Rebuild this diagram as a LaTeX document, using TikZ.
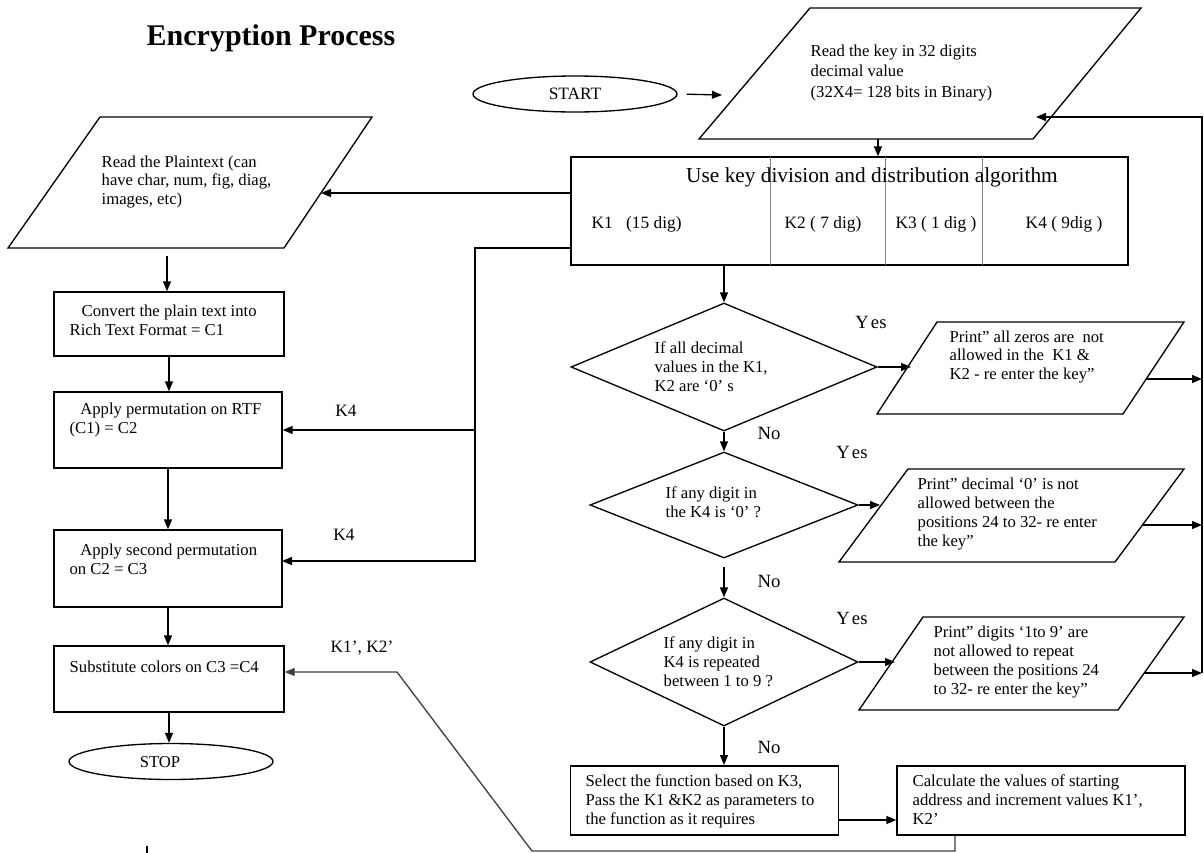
\documentclass[tikz,border=0pt]{standalone}
\usepackage{fontspec}
\setmainfont{Liberation Serif}
\usetikzlibrary{arrows.meta, shapes.geometric}

\begin{document}
\begin{tikzpicture}[x=0.75pt, y=-0.75pt, line width=1pt,
  every node/.style={inner sep=0pt, font=\fontsize{12.5}{14.2}\selectfont},
  txt/.style={align=left, anchor=west},
  box/.style={draw, rectangle},
  term/.style={draw, ellipse, minimum width=153pt, minimum height=27pt},
  dec/.style={draw, diamond},
  flow/.style={-{Triangle[length=7.5pt, width=6pt]}},
  answer/.style={font=\fontsize{14}{16}\selectfont},
  keylbl/.style={font=\fontsize{13}{15}\selectfont}]
\useasboundingbox (0,0) rectangle (1204,853);
% Title
\node[font=\bfseries\fontsize{22.5}{26}\selectfont] (title) at (271,38) {Encryption Process};
% Start and key input
\node[term, font=\fontsize{13}{15}\selectfont] (start) at (575,94) {START};
\draw (810,8) -- (1141,8) -- (1033,139) -- (699,139) -- cycle;
\node[txt] (key) at (810,73) {Read the key in 32 digits\\[1.2pt]decimal value\\[1.2pt](32X4= 128 bits in Binary)};
\coordinate (key-in) at (722,95);
\coordinate (key-s) at (878,139);
\coordinate (key-e) at (1036,117);
\draw[flow, shorten <=6.75pt] (start.east) -- (key-in);
% Key division box
\node[box, minimum width=417.75pt, minimum height=81pt] (usekey) at (849.5,211) {};
\draw[gray, line width=0.7pt] (770,157) -- (770,265) (885,157) -- (885,265) (982,157) -- (982,265);
\node[font=\fontsize{16}{18}\selectfont] (usekey-t) at (872,177) {Use key division and distribution algorithm};
\node[keylbl, anchor=west] (k1) at (591,224) {K1\hspace{10pt}(15 dig)};
\node[keylbl] (k2) at (823,224) {K2 ( 7 dig)};
\node[keylbl] (k3) at (936,224) {K3 ( 1 dig )};
\node[keylbl] (k4) at (1064,224) {K4 ( 9dig )};
\draw[flow] (key-s) -- (key-s |- usekey.north);
% Plaintext input
\draw (100,117) -- (372,117) -- (284,248) -- (8,248) -- cycle;
\node[txt] (plain) at (101,182) {Read the Plaintext (can\\have char, num, fig, diag,\\images, etc)};
\coordinate (plain-e) at (321,193);
\coordinate (plain-s) at (167,256);
\draw[flow] (usekey.west |- plain-e) -- (plain-e);
% Left column
\node[box, minimum width=172.5pt, minimum height=48pt] (convert) at (169,324) {};
\node[txt] (convert-t) at (69,320) {\hspace*{9pt}Convert the plain text into\\Rich Text Format = C1};
\node[box, minimum width=171pt, minimum height=57pt] (perm) at (168,430) {};
\node[txt] (perm-t) at (69,420) {\hspace*{8pt}Apply permutation on RTF\\(C1) = C2};
\node[box, minimum width=171pt, minimum height=57.75pt] (second) at (168,568.5) {};
\node[txt] (second-t) at (69,559) {\hspace*{8pt}Apply second permutation\\on C2 = C3};
\node[box, minimum width=172.5pt, minimum height=49.5pt] (subst) at (169,679) {};
\node[txt] (subst-t) at (69,667) {Substitute colors on C3 =C4};
\node[term] (stop) at (171,761.5) {};
\node (stop-t) at (160,762) {STOP};
\draw[flow] (plain-s) -- (plain-s |- convert.north);
\draw[flow] (convert.south) -- (convert.south |- perm.north);
\draw[flow] (perm.south) -- (perm.south |- second.north);
\draw[flow] (second.south) -- (second.south |- subst.north);
\draw[flow] (subst.south) -- (subst.south |- stop.north);
% K4 to the permutations
\coordinate (k4-split) at (475,248);
\coordinate (second-in) at (282,561);
\draw[flow] (usekey.west |- k4-split) -- (k4-split) |- (second-in);
\draw[flow] (k4-split |- perm.east) -- (perm.east);
\node[keylbl] (k4-a) at (346,411) {K4};
\node[keylbl] (k4-b) at (344,535) {K4};
% Checks on the key
\node[dec, minimum width=229.5pt, minimum height=96pt] (dec1) at (724,367) {};
\node[txt] (dec1-t) at (654,367) {If all decimal\\values in the K1,\\K2 are `0' s};
\node[dec, minimum width=201pt, minimum height=79.5pt] (dec2) at (724,505) {};
\node[txt] (dec2-t) at (665,502) {If any digit in\\the K4 is `0' ?};
\node[dec, minimum width=201pt, minimum height=96pt] (dec3) at (724,662) {};
\node[txt] (dec3-t) at (663,662) {If any digit in\\K4 is repeated\\between 1 to 9 ?};
\draw[flow] (usekey.south -| dec1.north) -- (dec1.north);
\draw[flow] (dec1.south) -- (dec2.north);
\draw[flow, shorten <=6pt] (dec2.south) -- (dec3.north);
\draw[flow] (dec3.south) -- (dec3.south |- 0,765);
\node[answer] (no1) at (769,433) {No};
\node[answer] (no2) at (769,581) {No};
\node[answer] (no3) at (769,747) {No};
\node[answer] (yes1) at (871,322) {Y\kern1.5pt es};
\node[answer] (yes2) at (852,452) {Y\kern1.5pt es};
\node[answer] (yes3) at (852,618) {Y\kern1.5pt es};
% Error messages
\draw (937,322) -- (1184,322) -- (1123,414) -- (877,414) -- cycle;
\node[txt] (print1) at (949,357) {Print'' all zeros are\ \ not\\allowed in the\ \ K1 \&\\K2 - re enter the key''};
\draw (908,469) -- (1184,469) -- (1115,562) -- (839,562) -- cycle;
\node[txt] (print2) at (917,514) {Print'' decimal `0' is not\\allowed between the\\positions 24 to 32- re enter\\the key''};
\draw (923,617) -- (1184,617) -- (1118,710) -- (859,710) -- cycle;
\node[txt] (print3) at (933,662) {Print'' digits `1to 9' are\\not allowed to repeat\\between the positions 24\\to 32- re enter the key''};
\coordinate (p1-w) at (911,367);
\coordinate (p2-w) at (880,505);
\coordinate (p3-w) at (895,662);
\draw[flow] (dec1.east) -- (p1-w);
\draw[flow] (dec2.east) -- (p2-w);
\draw[flow] (dec3.east) -- (p3-w);
% Back to the key input
\coordinate (loop-ne) at (1202,117);
\coordinate (loop-se) at (1202,673);
\coordinate (p1-e) at (1146,379);
\coordinate (p2-e) at (1143,525);
\coordinate (p3-e) at (1144,673);
\draw[flow] (loop-se) -- (loop-ne) -- (key-e);
\draw[flow] (p1-e) -- (p1-e -| loop-ne);
\draw[flow] (p2-e) -- (p2-e -| loop-ne);
\draw[flow] (p3-e) -- (p3-e -| loop-ne);
% Function and sub-keys
\node[box, minimum width=201pt, minimum height=51.75pt] (select) at (704.5,800.5) {};
\node[txt] (select-t) at (585,801) {Select the function based on K3,\\Pass the K1 \&K2 as parameters to\\the function as it requires};
\node[box, minimum width=216pt, minimum height=51.75pt] (calc) at (1041,800.5) {};
\node[txt] (calc-t) at (912,800) {Calculate the values of starting\\address and increment values K1',\\K2'};
\coordinate (sel-out) at (839,820);
\draw[flow] (sel-out) -- (sel-out -| calc.west);
% K1', K2' to the colour step
\coordinate (drop) at (955,851);
\coordinate (slant) at (532,851);
\coordinate (kink) at (397,672);
\draw[flow, black!75] (calc.south -| drop) -- (drop) -- (slant) -- (kink) -- (kink -| subst.east);
\node[keylbl] (k12) at (362,648) {K1', K2'};
\draw (147,846) -- (147,853);
\end{tikzpicture}
\end{document}
